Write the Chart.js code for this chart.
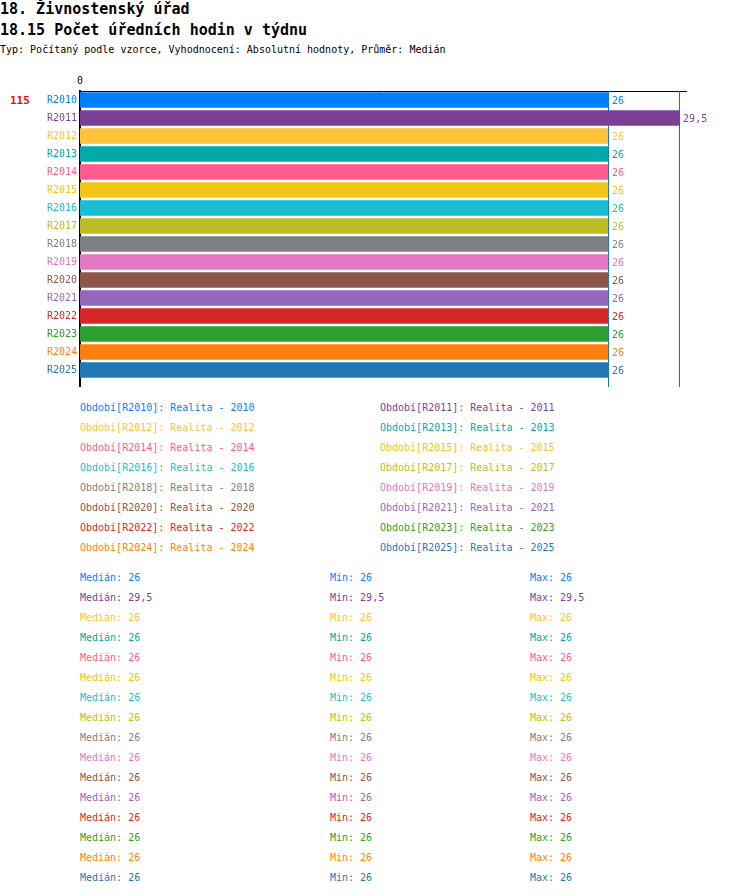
<!DOCTYPE html>
<html>
<head>
<meta charset="utf-8">
<script src="https://cdn.jsdelivr.net/npm/chart.js@4.4.1/dist/chart.umd.min.js"></script>
<style>
    body { margin: 0; background: #fff; font-family: "DejaVu Sans Mono", monospace; }
    .txt { position: absolute; white-space: nowrap; line-height: 1.2; }
    #chart-box { position: absolute; left: 0; top: 0; width: 750px; height: 400px; }
</style>
</head>
<body>
<div class="txt" style="left:0;top:0;font-size:15px;font-weight:bold;line-height:18px;">18. Živnostenský úřad</div>
<div class="txt" style="left:0;top:21px;font-size:15px;font-weight:bold;line-height:18px;">18.15 Počet úředních hodin v týdnu</div>
<div class="txt" style="left:0;top:44px;font-size:10px;">Typ: Počítaný podle vzorce, Vyhodnocení: Absolutní hodnoty, Průměr: Medián</div>
<div class="txt" style="left:10px;top:94px;font-size:11px;font-weight:bold;color:#ff0000;">115</div>
<div id="chart-box"><canvas id="data-chart"></canvas></div>
<div id="legend-box"></div>
<div id="stats-box"></div>

<script>
// categories and values
const periods = ['R2010', 'R2011', 'R2012', 'R2013', 'R2014', 'R2015', 'R2016', 'R2017',
    'R2018', 'R2019', 'R2020', 'R2021', 'R2022', 'R2023', 'R2024', 'R2025'];
const years = ['2010', '2011', '2012', '2013', '2014', '2015', '2016', '2017',
    '2018', '2019', '2020', '2021', '2022', '2023', '2024', '2025'];
const hours = [26, 29.5, 26, 26, 26, 26, 26, 26, 26, 26, 26, 26, 26, 26, 26, 26];
const medians = [26, 29.5, 26, 26, 26, 26, 26, 26, 26, 26, 26, 26, 26, 26, 26, 26];
const mins = [26, 29.5, 26, 26, 26, 26, 26, 26, 26, 26, 26, 26, 26, 26, 26, 26];
const maxs = [26, 29.5, 26, 26, 26, 26, 26, 26, 26, 26, 26, 26, 26, 26, 26, 26];
const colors = ['#0080ff', '#7b3f98', '#fdc23a', '#00a9a9', '#ff5a8c', '#f0c514', '#17becf', '#bcbd22',
    '#7f7f7f', '#e377c2', '#8c564b', '#9467bd', '#d62728', '#2ca02c', '#ff7f0e', '#1f77b4'];

const fmt = (v) => String(v).replace('.', ',');

// median lines + axis extension + value labels
const extrasPlugin = {
    id: 'extras',
    beforeDatasetsDraw(chart) {
        const ctx = chart.ctx;
        const area = chart.chartArea;
        const xScale = chart.scales.x;
        ctx.save();
        ctx.lineWidth = 1;
        medians.forEach((m, i) => {
            const x = Math.round(xScale.getPixelForValue(m)) + 0.5;
            ctx.strokeStyle = colors[i];
            ctx.beginPath();
            ctx.moveTo(x, area.top);
            ctx.lineTo(x, area.bottom + 8);
            ctx.stroke();
        });
        ctx.restore();
    },
    afterDatasetsDraw(chart) {
        const ctx = chart.ctx;
        const area = chart.chartArea;
        ctx.save();
        // left axis continues a bit below the last bar
        ctx.fillStyle = '#000';
        ctx.fillRect(area.left - 1, area.bottom, 2, 8);
        ctx.font = '10px "DejaVu Sans Mono"';
        ctx.textBaseline = 'middle';
        ctx.textAlign = 'left';
        chart.getDatasetMeta(0).data.forEach((bar, i) => {
            ctx.fillStyle = colors[i];
            ctx.fillText(fmt(hours[i]), bar.x + 4, bar.y + 1);
        });
        ctx.restore();
    }
};

const chartEl = document.getElementById('data-chart').getContext('2d');
const dataChart = new Chart(chartEl, {
    type: 'bar',
    data: {
        labels: periods,
        datasets: [{
            label: 'Počet úředních hodin',
            data: hours,
            backgroundColor: colors,
            borderWidth: 0,
            barPercentage: 0.86,
            categoryPercentage: 1
        }]
    },
    options: {
        indexAxis: 'y',
        responsive: true,
        maintainAspectRatio: false,
        animation: false,
        layout: { padding: { left: 0, right: 64, top: 71, bottom: 21 } },
        plugins: {
            legend: { display: false },
            tooltip: { enabled: false }
        },
        scales: {
            x: {
                position: 'top',
                min: 0,
                max: 29.84,
                grid: { display: false, drawTicks: false },
                border: { display: true, color: '#000', width: 1 },
                afterBuildTicks: (scale) => { scale.ticks = [{ value: 0 }]; },
                afterFit: (scale) => { scale.height = 20; },
                ticks: {
                    color: '#000',
                    padding: 4,
                    font: { family: 'DejaVu Sans Mono', size: 10 },
                    maxRotation: 0
                }
            },
            y: {
                grid: { display: false, drawTicks: false },
                border: { display: true, color: '#000', width: 2 },
                afterFit: (scale) => { scale.width = 80; },
                ticks: {
                    color: colors,
                    padding: 3,
                    font: { family: 'DejaVu Sans Mono', size: 10 }
                }
            }
        }
    },
    plugins: [extrasPlugin]
});

// legend rows
const legendBox = document.getElementById('legend-box');
periods.forEach((p, i) => {
    const el = document.createElement('div');
    el.className = 'txt';
    el.style.left = (i % 2 === 0 ? 80 : 380) + 'px';
    el.style.top = (402 + Math.floor(i / 2) * 20) + 'px';
    el.style.fontSize = '10px';
    el.style.color = colors[i];
    el.innerText = 'Období[' + p + ']: Realita - ' + years[i];
    legendBox.appendChild(el);
});

// stats rows
const statsBox = document.getElementById('stats-box');
periods.forEach((p, i) => {
    const cols = [
        [80, 'Medián: ' + fmt(medians[i])],
        [330, 'Min: ' + fmt(mins[i])],
        [530, 'Max: ' + fmt(maxs[i])]
    ];
    cols.forEach((c) => {
        const el = document.createElement('div');
        el.className = 'txt';
        el.style.left = c[0] + 'px';
        el.style.top = (572 + i * 20) + 'px';
        el.style.fontSize = '10px';
        el.style.color = colors[i];
        el.innerText = c[1];
        statsBox.appendChild(el);
    });
});
</script>
</body>
</html>
